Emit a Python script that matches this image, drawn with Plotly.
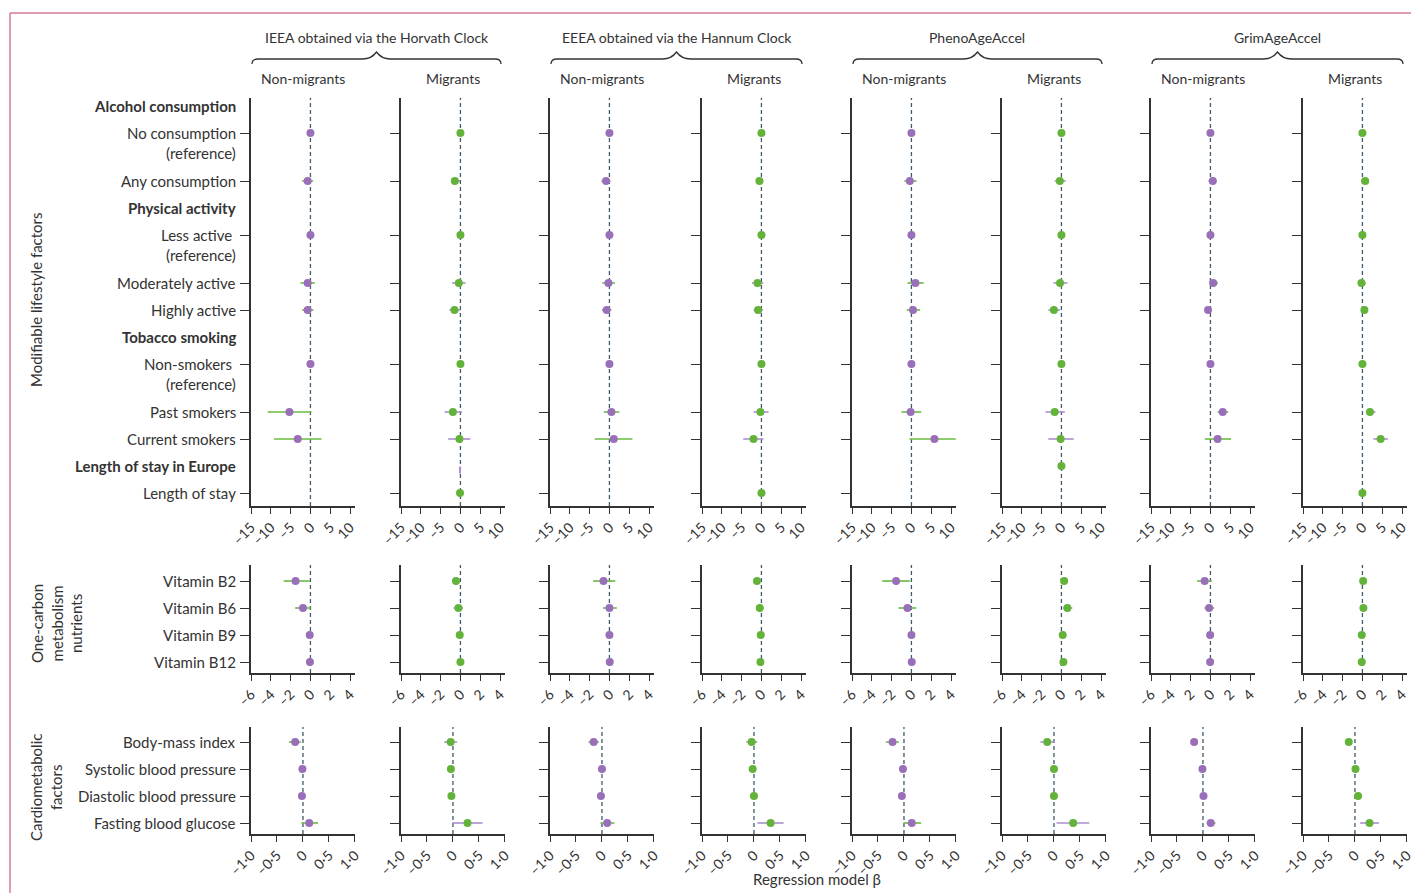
import plotly.graph_objects as go

W, H = 1411, 893
FONT = "Lato"
TXT = "#333333"

PURPLE = "#9a6fb9"
GREEN = "#63b33a"
CI_PURPLE = "#ab8fce"
CI_GREEN = "#6abb3f"
ZERO_LINE = "#3e5b6d"

clock_titles = ["IEEA obtained via the Horvath Clock", "EEEA obtained via the Hannum Clock",
                "PhenoAgeAccel", "GrimAgeAccel"]
group_titles = ["Non-migrants", "Migrants"]

# row structure: (label, kind) where kind is header / ref / item
lifestyle_rows = [
    ("Alcohol consumption", "header"), ("No consumption", "ref"), ("Any consumption", "item"),
    ("Physical activity", "header"), ("Less active\u00a0", "ref"), ("Moderately active", "item"),
    ("Highly active", "item"), ("Tobacco smoking", "header"), ("Non-smokers\u00a0", "ref"),
    ("Past smokers", "item"), ("Current smokers", "item"),
    ("Length of stay in Europe", "header"), ("Length of stay", "item"),
]
nutrient_rows = [("Vitamin B2", "item"), ("Vitamin B6", "item"), ("Vitamin B9", "item"), ("Vitamin B12", "item")]
cardio_rows = [("Body-mass index", "item"), ("Systolic blood pressure", "item"),
               ("Diastolic blood pressure", "item"), ("Fasting blood glucose", "item")]

# (estimate, lower, upper); None = not estimated
# lifestyle: no cons, any cons, less active, moderately, highly, non-smokers, past, current, length of stay
horvath_non_life = [(0, 0, 0), (-0.7, -2.1, 0.7), (0, 0, 0), (-0.7, -2.5, 1.1), (-0.7, -2.1, 0.8),
                    (0, 0, 0), (-5.3, -10.8, 0.25), (-3.2, -9.2, 2.8), None]
horvath_mig_life = [(0, 0, 0), (-1.4, -2.4, -0.1), (0, 0, 0), (-0.4, -2.1, 1.3), (-1.5, -2.8, 0.0),
                    (0, 0, 0), (-1.9, -4.0, 0.4), (-0.25, -3.1, 2.5), (-0.1, -0.15, -0.05)]
hannum_non_life = [(0, 0, 0), (-0.85, -2.0, 0.25), (0, 0, 0), (-0.25, -1.8, 1.4), (-0.7, -1.9, 0.5),
                   (0, 0, 0), (0.5, -1.4, 2.5), (1.1, -3.7, 5.8), None]
hannum_mig_life = [(0, 0, 0), (-0.5, -1.4, 0.5), (0, 0, 0), (-1.0, -2.4, 0.5), (-0.85, -2.0, 0.4),
                   (0, 0, 0), (-0.25, -2.0, 1.8), (-2.0, -4.6, 0.5), (0, 0, 0)]
pheno_non_life = [(0, 0, 0), (-0.4, -1.8, 1.3), (0, 0, 0), (1.0, -1.0, 3.1), (0.4, -1.2, 2.2),
                  (0, 0, 0), (-0.2, -2.5, 2.5), (5.8, -0.5, 11.2), None]
pheno_mig_life = [(0, 0, 0), (-0.4, -1.7, 1.1), (0, 0, 0), (-0.35, -2.0, 1.5), (-1.9, -3.3, -0.35),
                  (0, 0, 0), (-1.7, -4.0, 0.85), (-0.2, -3.3, 3.1), (0, 0, 0)]
grim_non_life = [(0, 0, 0), (0.6, -0.5, 1.6), (0, 0, 0), (0.7, -0.25, 1.9), (-0.6, -1.2, 0.2),
                 (0, 0, 0), (3.1, 1.8, 4.5), (1.8, -1.4, 5.2), None]
grim_mig_life = [(0, 0, 0), (0.7, -0.3, 1.6), (0, 0, 0), (-0.25, -1.0, 0.85), (0.5, 0.0, 1.3),
                 (0, 0, 0), (1.9, 0.85, 3.3), (4.6, 2.8, 6.4), (0, 0, 0)]

# nutrients: B2, B6, B9, B12
horvath_non_nutr = [(-1.5, -2.7, -0.07), (-0.75, -1.55, 0.07), (-0.07, -0.12, -0.02), (-0.05, -0.1, 0.0)]
horvath_mig_nutr = [(-0.45, -0.8, -0.1), (-0.2, -0.7, 0.27), (-0.07, -0.12, -0.02), (0.0, -0.05, 0.05)]
hannum_non_nutr = [(-0.6, -1.65, 0.6), (0.0, -0.65, 0.75), (0.0, -0.05, 0.05), (0.03, -0.02, 0.08)]
hannum_mig_nutr = [(-0.45, -0.7, -0.17), (-0.17, -0.45, 0.2), (-0.07, -0.12, -0.02), (-0.1, -0.15, -0.05)]
pheno_non_nutr = [(-1.55, -2.95, -0.15), (-0.4, -1.3, 0.5), (0.0, -0.05, 0.05), (0.03, -0.02, 0.08)]
pheno_mig_nutr = [(0.27, -0.03, 0.65), (0.6, 0.13, 1.1), (0.13, 0.08, 0.18), (0.2, 0.15, 0.25)]
grim_non_nutr = [(-0.58, -1.35, 0.13), (-0.13, -0.6, 0.37), (-0.03, -0.08, 0.02), (-0.03, -0.08, 0.02)]
grim_mig_nutr = [(0.07, 0.02, 0.12), (0.1, -0.17, 0.37), (-0.07, -0.12, -0.02), (-0.07, -0.12, -0.02)]

# cardiometabolic: BMI, SBP, DBP, FBG
horvath_non_card = [(-0.15, -0.27, -0.04), (-0.01, -0.02, 0.0), (-0.02, -0.03, -0.01), (0.12, -0.03, 0.29)]
horvath_mig_card = [(-0.045, -0.17, 0.08), (-0.04, -0.05, -0.03), (-0.03, -0.04, -0.02), (0.28, -0.01, 0.57)]
hannum_non_card = [(-0.16, -0.26, -0.06), (0.0, -0.01, 0.01), (-0.02, -0.08, 0.04), (0.1, -0.03, 0.24)]
hannum_mig_card = [(-0.045, -0.15, 0.065), (-0.025, -0.035, -0.015), (0.0, -0.01, 0.01), (0.32, 0.065, 0.57)]
pheno_non_card = [(-0.22, -0.35, -0.1), (-0.02, -0.03, -0.01), (-0.04, -0.05, -0.03), (0.15, -0.01, 0.33)]
pheno_mig_card = [(-0.13, -0.26, 0.01), (0.0, -0.01, 0.01), (0.0, -0.01, 0.01), (0.37, 0.05, 0.68)]
grim_non_card = [(-0.17, -0.21, -0.12), (-0.01, -0.02, 0.0), (0.01, 0.0, 0.02), (0.15, 0.07, 0.24)]
grim_mig_card = [(-0.12, -0.17, -0.06), (0.01, 0.0, 0.02), (0.06, 0.05, 0.07), (0.28, 0.1, 0.46)]

life_ticks = [-15, -10, -5, 0, 5, 10]
life_ticktext = ["\u201315", "\u201310", "\u20135", "0", "5", "10"]
nutr_ticks = [-6, -4, -2, 0, 2, 4]
nutr_ticktext = ["\u20136", "\u20134", "\u20132", "0", "2", "4"]
card_ticks = [-1.0, -0.5, 0, 0.5, 1.0]
card_ticktext = ["\u20131\u00b70", "\u20130\u00b75", "0", "0\u00b75", "1\u00b70"]

section_data = [
    [horvath_non_life, horvath_mig_life, hannum_non_life, hannum_mig_life,
     pheno_non_life, pheno_mig_life, grim_non_life, grim_mig_life],
    [horvath_non_nutr, horvath_mig_nutr, hannum_non_nutr, hannum_mig_nutr,
     pheno_non_nutr, pheno_mig_nutr, grim_non_nutr, grim_mig_nutr],
    [horvath_non_card, horvath_mig_card, hannum_non_card, hannum_mig_card,
     pheno_non_card, pheno_mig_card, grim_non_card, grim_mig_card],
]

# ---------------- page geometry (pixels) ----------------
col_left = [251, 401, 550, 702, 852, 1002, 1151, 1303]
panel_w = 104
sections = [
    dict(rows=lifestyle_rows, top=98, bottom=506, first=106, xr=[-15, 11.25],
         ticks=life_ticks, ticktext=life_ticktext),
    dict(rows=nutrient_rows, top=565, bottom=673, first=581, xr=[-6, 4.5],
         ticks=nutr_ticks, ticktext=nutr_ticktext),
    dict(rows=cardio_rows, top=727, bottom=834, first=742, xr=[-1, 1.001],
         ticks=card_ticks, ticktext=card_ticktext),
]
STEP, REF_EXTRA = 27, 21


def px(x):
    return x / W


def py(y):
    return 1 - y / H


def row_positions(rows, first):
    pos, y = [], first
    for label, kind in rows:
        pos.append(y)
        y += STEP + (REF_EXTRA if kind == "ref" else 0)
    return pos


fig = go.Figure()
layout = dict(width=W, height=H, margin=dict(l=0, r=0, t=0, b=0, autoexpand=False),
              paper_bgcolor="white", plot_bgcolor="white", showlegend=False,
              font=dict(family=FONT, size=14, color=TXT))
annotations, shapes = [], []

for s, sec in enumerate(sections):
    ypos = row_positions(sec["rows"], sec["first"])
    item_idx = [i for i, (_, k) in enumerate(sec["rows"]) if k != "header"]
    item_y = [ypos[i] for i in item_idx]
    header_y = {lab: ypos[i] for i, (lab, k) in enumerate(sec["rows"]) if k == "header"}
    for c in range(8):
        n = s * 8 + c + 1
        xa = "xaxis" if n == 1 else f"xaxis{n}"
        ya = "yaxis" if n == 1 else f"yaxis{n}"
        xr = "x" if n == 1 else f"x{n}"
        yr = "y" if n == 1 else f"y{n}"
        L = col_left[c]
        tt = list(sec["ticktext"])
        if s == 1 and c == 6:
            tt[2] = "2"
        layout[xa] = dict(domain=[px(L), px(L + panel_w)], anchor=yr, range=sec["xr"],
                          automargin=False, ticklabeloverflow="allow",
                          tickmode="array", tickvals=sec["ticks"], ticktext=tt, tickangle=-45,
                          ticks="outside", ticklen=6, tickwidth=1.3, tickcolor=TXT,
                          showline=True, linecolor=TXT, linewidth=1.5, showgrid=False,
                          zeroline=False, tickfont=dict(family=FONT, size=14, color=TXT),
                          fixedrange=True)
        layout[ya] = dict(domain=[py(sec["bottom"]), py(sec["top"])], anchor=xr,
                          automargin=False,
                          range=[sec["bottom"], sec["top"]], tickmode="array",
                          tickvals=item_y, showticklabels=False, ticks="outside", ticklen=9,
                          tickwidth=1.3, tickcolor=TXT, showline=True, linecolor=TXT,
                          linewidth=1.5, showgrid=False, zeroline=False, fixedrange=True)
        # zero reference line
        shapes.append(dict(type="line", xref=xr, yref=f"{yr} domain", x0=0, x1=0, y0=0, y1=1,
                           line=dict(color=ZERO_LINE, width=1.3, dash="4px,3px"), layer="below"))

        data = section_data[s][c]
        mig = c % 2 == 1
        xs, ys, ep, em = [], [], [], []
        for k, rec in enumerate(data):
            if rec is None:
                continue
            est, lo, hi = rec
            yv = item_y[k]
            if s == 0 and c == 5 and k == 8:
                yv = header_y["Length of stay in Europe"]
            xs.append(est)
            ys.append(yv)
            ep.append(hi - est)
            em.append(est - lo)
        fig.add_trace(go.Scatter(
            x=xs, y=ys, mode="markers", xaxis=xr, yaxis=yr, cliponaxis=False,
            marker=dict(size=8, color=GREEN if mig else PURPLE),
            error_x=dict(type="data", symmetric=False, array=ep, arrayminus=em,
                         color=CI_PURPLE if mig else CI_GREEN, thickness=1.6, width=0),
            hoverinfo="x+y"))
        if s == 0 and c == 1:
            # small stray interval mark on the length-of-stay header row
            fig.add_trace(go.Scatter(
                x=[horvath_mig_life[8][0]], y=[header_y["Length of stay in Europe"] + 4],
                mode="markers", xaxis=xr, yaxis=yr,
                marker=dict(symbol="line-ns", size=5, color=CI_PURPLE,
                            line=dict(color=CI_PURPLE, width=2)),
                hoverinfo="skip"))

    # row labels to the left of the first panel
    yref0 = "y" if s == 0 else f"y{s * 8 + 1}"
    for (label, kind), yv in zip(sec["rows"], ypos):
        txt = f"<b>{label}</b>" if kind == "header" else label
        annotations.append(dict(text=txt, x=px(238), xref="paper", xanchor="right",
                                y=yv, yref=yref0, yanchor="middle", showarrow=False,
                                font=dict(family=FONT, size=15, color=TXT)))
        if kind == "ref":
            annotations.append(dict(text="(reference)", x=px(238), xref="paper", xanchor="right",
                                    y=yv + 20, yref=yref0, yanchor="middle", showarrow=False,
                                    font=dict(family=FONT, size=15, color=TXT)))

# clock titles, braces and group headers
for g in range(4):
    x0 = col_left[2 * g] + 1
    x1 = col_left[2 * g + 1] + 100
    xc = (x0 + x1) / 2
    annotations.append(dict(text=clock_titles[g], x=px(xc), y=py(37), xref="paper", yref="paper",
                            xanchor="center", yanchor="middle", showarrow=False,
                            font=dict(family=FONT, size=14, color=TXT)))
    pts = [("M", x0, 64), ("Q", x0, 59, x0 + 6, 59), ("L", xc - 14, 59), ("Q", xc - 5, 59, xc, 52),
           ("Q", xc + 5, 59, xc + 14, 59), ("L", x1 - 6, 59), ("Q", x1, 59, x1, 64)]
    path = ""
    for p in pts:
        cmd, vals = p[0], p[1:]
        coords = " ".join(f"{px(vals[i]):.5f},{py(vals[i + 1]):.5f}" for i in range(0, len(vals), 2))
        path += f"{cmd} {coords} "
    shapes.append(dict(type="path", path=path.strip(), xref="paper", yref="paper",
                       line=dict(color=TXT, width=1.3)))
    for k in range(2):
        L = col_left[2 * g + k]
        annotations.append(dict(text=group_titles[k], x=px(L + 52), y=py(78), xref="paper",
                                yref="paper", xanchor="center", yanchor="middle", showarrow=False,
                                font=dict(family=FONT, size=14, color=TXT)))

# section titles (rotated)
for text, xc, yc in [("Modifiable lifestyle factors", 36, 300),
                     ("One-carbon<br>metabolism<br>nutrients", 56, 624),
                     ("Cardiometabolic<br>factors", 46, 787)]:
    annotations.append(dict(text=text, x=px(xc), y=py(yc), xref="paper", yref="paper",
                            xanchor="center", yanchor="middle", textangle=-90, showarrow=False,
                            font=dict(family=FONT, size=15, color=TXT)))

annotations.append(dict(text="Regression model \u03b2", x=px(817), y=py(879), xref="paper",
                        yref="paper", xanchor="center", yanchor="middle", showarrow=False,
                        font=dict(family=FONT, size=15, color=TXT)))

# page frame rules
frame = "#d6799e"
shapes.append(dict(type="line", xref="paper", yref="paper", x0=px(10), x1=1, y0=py(13), y1=py(13),
                   line=dict(color=frame, width=1.5)))
shapes.append(dict(type="line", xref="paper", yref="paper", x0=px(10), x1=px(10), y0=py(13), y1=0,
                   line=dict(color=frame, width=1.5)))

layout["annotations"] = annotations
layout["shapes"] = shapes
fig.update_layout(**layout)
fig.write_html("out.html")
